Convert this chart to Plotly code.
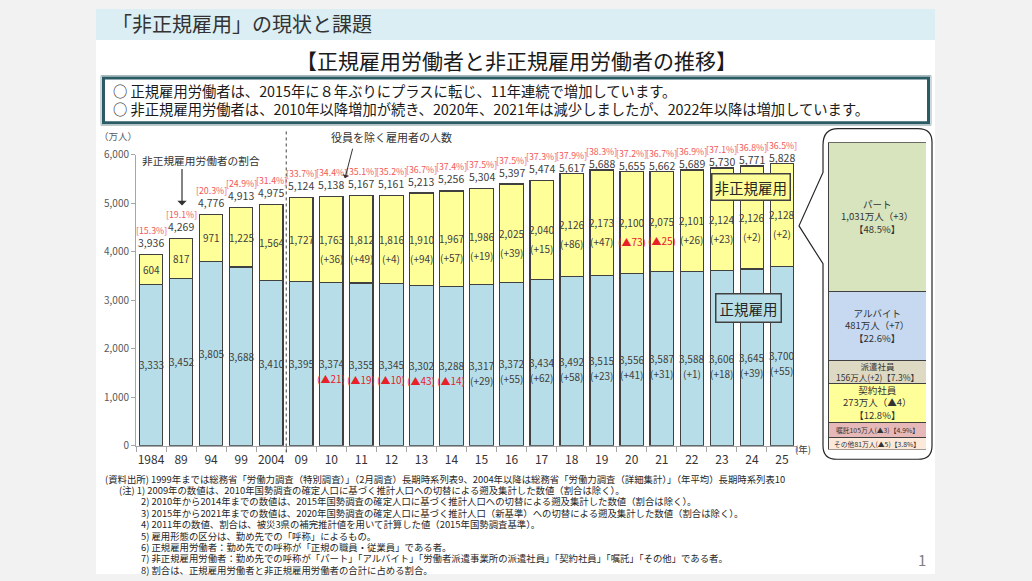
import plotly.graph_objects as go

W, H = 1032, 581
FONT = "Noto Sans CJK JP"

# ---------------- data ----------------
years = ["1984", "89", "94", "99", "2004", "09", "10", "11", "12", "13", "14",
         "15", "16", "17", "18", "19", "20", "21", "22", "23", "24", "25"]
regular = [3333, 3452, 3805, 3688, 3410, 3395, 3374, 3355, 3345, 3302, 3288,
           3317, 3372, 3434, 3492, 3515, 3556, 3587, 3588, 3606, 3645, 3700]
nonregular = [604, 817, 971, 1225, 1564, 1727, 1763, 1812, 1816, 1910, 1967,
              1986, 2025, 2040, 2126, 2173, 2100, 2075, 2101, 2124, 2126, 2128]
total = [3936, 4269, 4776, 4913, 4975, 5124, 5138, 5167, 5161, 5213, 5256,
         5304, 5397, 5474, 5617, 5688, 5655, 5662, 5689, 5730, 5771, 5828]
share = [15.3, 19.1, 20.3, 24.9, 31.4, 33.7, 34.4, 35.1, 35.2, 36.7, 37.4,
         37.5, 37.5, 37.3, 37.9, 38.3, 37.2, 36.7, 36.9, 37.1, 36.8, 36.5]
regular_change = [None] * 6 + [-21, -19, -10, -43, -14, 29, 55, 62, 58, 23,
                               41, 31, 1, 18, 39, 55]
nonregular_change = [None] * 6 + [36, 49, 4, 94, 57, 19, 39, 15, 86, 47,
                                  -73, -25, 26, 23, 2, 2]

breakdown_labels = ["その他", "嘱託", "契約社員", "派遣社員", "アルバイト", "パート"]
breakdown_values = [81, 105, 273, 156, 481, 1031]
breakdown_change = [-5, -3, -4, 2, 7, 3]
breakdown_share = [3.8, 4.9, 12.8, 7.3, 22.6, 48.5]
breakdown_colors = ["#fde9d9", "#e6b9b8", "#ffff99", "#ddd9c3", "#c6d9f1", "#d7e4bd"]

header_title = "「非正規雇用」の現状と課題"
chart_title = "【正規雇用労働者と非正規雇用労働者の推移】"
summary_lines = [
    "○ 正規雇用労働者は、2015年に８年ぶりにプラスに転じ、11年連続で増加しています。",
    "○ 非正規雇用労働者は、2010年以降増加が続き、2020年、2021年は減少しましたが、2022年以降は増加しています。",
]
notes = [
    "(資料出所) 1999年までは総務省「労働力調査（特別調査）」（2月調査）長期時系列表9、2004年以降は総務省「労働力調査（詳細集計）」（年平均）長期時系列表10",
    "(注) 1) 2009年の数値は、2010年国勢調査の確定人口に基づく推計人口への切替による遡及集計した数値（割合は除く）。",
    "2) 2010年から2014年までの数値は、2015年国勢調査の確定人口に基づく推計人口への切替による遡及集計した数値（割合は除く）。",
    "3) 2015年から2021年までの数値は、2020年国勢調査の確定人口に基づく推計人口（新基準）への切替による遡及集計した数値（割合は除く）。",
    "4) 2011年の数値、割合は、被災3県の補完推計値を用いて計算した値（2015年国勢調査基準）。",
    "5) 雇用形態の区分は、勤め先での「呼称」によるもの。",
    "6) 正規雇用労働者：勤め先での呼称が「正規の職員・従業員」である者。",
    "7) 非正規雇用労働者：勤め先での呼称が「パート」「アルバイト」「労働者派遣事業所の派遣社員」「契約社員」「嘱託」「その他」である者。",
    "8) 割合は、正規雇用労働者と非正規雇用労働者の合計に占める割合。",
]


def px(x):
    return x / W


def py(y):
    return 1 - y / H


def fmt_change(v):
    return f"▲{abs(v)}" if v < 0 else f"+{v}"


def txt(x, y, text, size, color="#333333", xanchor="center", **kw):
    return dict(xref="paper", yref="paper", x=px(x), y=py(y), text=text, showarrow=False,
                xanchor=xanchor, yanchor="middle",
                font=dict(family=FONT, size=size, color=color), **kw)


RED = "#e8202a"
PINK = "#f25a5a"
DARK = "#404040"

fig = go.Figure()

# main stacked bars
fig.add_trace(go.Bar(x=years, y=regular, width=0.78,
                     marker=dict(color="#b7dee8", line=dict(color=DARK, width=1.2)),
                     hoverinfo="skip"))
fig.add_trace(go.Bar(x=years, y=nonregular, width=0.78,
                     marker=dict(color="#ffff99", line=dict(color=DARK, width=1.2)),
                     hoverinfo="skip"))

# breakdown panel bars
for lab, val, col in zip(breakdown_labels, breakdown_values, breakdown_colors):
    fig.add_trace(go.Bar(x=[0], y=[val], width=1, xaxis="x2", yaxis="y2",
                         marker=dict(color=col, line=dict(color=DARK, width=1)),
                         hoverinfo="skip"))

ann = []
shapes = []

# slide background + header band
shapes.append(dict(type="rect", xref="paper", yref="paper", x0=px(96), x1=px(935),
                   y0=0, y1=1, fillcolor="white", line=dict(width=0), layer="below"))
shapes.append(dict(type="rect", xref="paper", yref="paper", x0=px(96), x1=px(935),
                   y0=py(32), y1=1, fillcolor="#daeef3", line=dict(width=0), layer="below"))
# summary box
shapes.append(dict(type="rect", xref="paper", yref="paper", x0=px(101), x1=px(931),
                   y0=py(119.5), y1=py(68.5), line=dict(color="#9fb2b6", width=1)))
shapes.append(dict(type="rect", xref="paper", yref="paper", x0=px(103.5), x1=px(928.5),
                   y0=py(117), y1=py(71), line=dict(color="#2b5c66", width=3)))
# dotted separator
shapes.append(dict(type="line", xref="x", yref="paper", x0=4.5, x1=4.5,
                   y0=py(456), y1=py(123), line=dict(color="#404040", width=1, dash="dot")))

# panel outline with notch
pts = (f"M {px(838)},{py(123)} L {px(918)},{py(123)} Q {px(932)},{py(123)} {px(932)},{py(137)} "
       f"L {px(932)},{py(449)} Q {px(932)},{py(463)} {px(918)},{py(463)} "
       f"L {px(837)},{py(463)} Q {px(823)},{py(463)} {px(823)},{py(449)} "
       f"L {px(823)},{py(262)} L {px(799)},{py(223)} L {px(823)},{py(168)} "
       f"L {px(823)},{py(140)} Q {px(823)},{py(123)} {px(838)},{py(123)} Z")
shapes.append(dict(type="path", xref="paper", yref="paper", path=pts,
                   line=dict(color="#262626", width=1.2)))

# header texts
ann.append(txt(110, 15, header_title, 20, xanchor="left"))
ann.append(txt(516, 52, chart_title, 21, color="#1a1a1a"))
for i, line in enumerate(summary_lines):
    ann.append(txt(111, 84 + 18 * i, line, 14.3, color="#1a1a1a", xanchor="left"))

# unit labels
ann.append(txt(118, 131, "（万人）", 9.5, color="#595959"))
ann.append(txt(803, 452, "(年)", 9.5, color="#404040"))

# bar labels (x given as category index)
NUM = dict(family=FONT, size=10, color="#404040")
for i in range(len(years)):
    ann.append(dict(x=i, y=regular[i] / 2, text=f"{regular[i]:,}", showarrow=False,
                    font=NUM, xanchor="center", yanchor="middle"))
    if regular_change[i] is not None:
        c = regular_change[i]
        ann.append(dict(x=i, y=regular[i] / 2, yshift=-15, text=f"({fmt_change(c)})",
                        showarrow=False, xanchor="center", yanchor="middle",
                        font=dict(family=FONT, size=10, color=RED if c < 0 else "#404040")))
    mid = regular[i] + nonregular[i] / 2
    ann.append(dict(x=i, y=mid, text=f"{nonregular[i]:,}", showarrow=False,
                    font=NUM, xanchor="center", yanchor="middle"))
    if nonregular_change[i] is not None:
        c = nonregular_change[i]
        ann.append(dict(x=i, y=mid, yshift=-19, text=f"({fmt_change(c)})",
                        showarrow=False, xanchor="center", yanchor="middle",
                        font=dict(family=FONT, size=10, color=RED if c < 0 else "#404040")))
    close = total[i] > 5600
    ann.append(dict(x=i, y=total[i], yshift=6 if close else 12, text=f"{total[i]:,}",
                    showarrow=False, xanchor="center", yanchor="middle",
                    font=dict(family=FONT, size=10.5, color="#404040")))
    ann.append(dict(x=i, y=total[i], yshift=18 if close else 24, text=f"[{share[i]}%]",
                    showarrow=False, xanchor="center", yanchor="middle",
                    font=dict(family=FONT, size=8.8, color=PINK)))

# legend-like boxes
ann.append(txt(750.5, 183.5, "非正規雇用", 14.5, color="#262626", bgcolor="#ffff99",
               bordercolor=DARK, borderwidth=1.5, borderpad=2))
ann.append(txt(748.5, 307.5, "正規雇用", 14.5, color="#262626", bgcolor="#b7dee8",
               bordercolor=DARK, borderwidth=1.5, borderpad=3))

# callouts
ann.append(txt(201, 156, "非正規雇用労働者の割合", 10.7))
ann.append(dict(xref="paper", yref="paper", x=px(182), y=py(202), ax=0, ay=-38, text="",
                showarrow=True, arrowhead=1, arrowsize=1.3, arrowwidth=1.2, arrowcolor="#333333"))
ann.append(txt(391, 132, "役員を除く雇用者の人数", 11))
ann.append(dict(xref="paper", yref="paper", x=px(345), y=py(174), ax=8, ay=-31, text="",
                showarrow=True, arrowhead=1, arrowsize=1.1, arrowwidth=1, arrowcolor="#333333"))

# breakdown panel labels
base = 0
for lab, val, chg, shr in zip(breakdown_labels, breakdown_values, breakdown_change, breakdown_share):
    center = base + val / 2
    base += val
    c = fmt_change(chg)
    if val > 250:
        t = f"{lab}<br>{val:,}万人（{c}）<br>【{shr}%】"
        size = 9.5
    elif val > 150:
        t = f"{lab}<br>{val:,}万人({c})【{shr}%】"
        size = 8.5
    else:
        t = f"{lab}{val:,}万人({c})【{shr}%】"
        size = 6.8
    ann.append(dict(xref="x2", yref="y2", x=0, y=center, text=t, showarrow=False,
                    xanchor="center", yanchor="middle",
                    font=dict(family=FONT, size=size, color="#333333")))

# notes
for i, line in enumerate(notes):
    x0 = 103 if i == 0 else (117 if i == 1 else 139)
    ann.append(txt(x0, 483 + 11.7 * i, line, 9.4, color="#262626", xanchor="left"))

# page number
ann.append(txt(922, 566, "1", 15, color="#7f7f7f"))

fig.update_layout(
    width=W, height=H, autosize=False,
    margin=dict(l=0, r=0, t=0, b=0),
    paper_bgcolor="#f2f2f2", plot_bgcolor="rgba(0,0,0,0)",
    barmode="stack", showlegend=False,
    font=dict(family=FONT),
    xaxis=dict(type="category", domain=[px(136), px(797)], range=[-0.5, 21.5],
               showline=True, linecolor="#a6a6a6", linewidth=1, ticks="outside",
               tickson="boundaries", ticklen=5, tickcolor="#a6a6a6", showgrid=False,
               tickangle=0, ticklabelstandoff=3,
               tickfont=dict(family=FONT, size=12, color="#333333"), fixedrange=True),
    yaxis=dict(domain=[py(449), py(150)], range=[0, 6000], tickvals=[0, 1000, 2000, 3000, 4000, 5000, 6000],
               tickformat=",", showline=True, linecolor="#a6a6a6", ticks="outside", ticklen=4,
               tickcolor="#a6a6a6", showgrid=False, zeroline=False,
               tickfont=dict(family=FONT, size=10, color="#595959"), fixedrange=True),
    xaxis2=dict(domain=[px(828), px(926)], range=[-0.5, 0.5], visible=False, anchor="y2"),
    yaxis2=dict(domain=[py(453), py(137)], range=[0, sum(breakdown_values)], visible=False, anchor="x2"),
    shapes=shapes, annotations=ann,
)

fig.write_html("out.html")
